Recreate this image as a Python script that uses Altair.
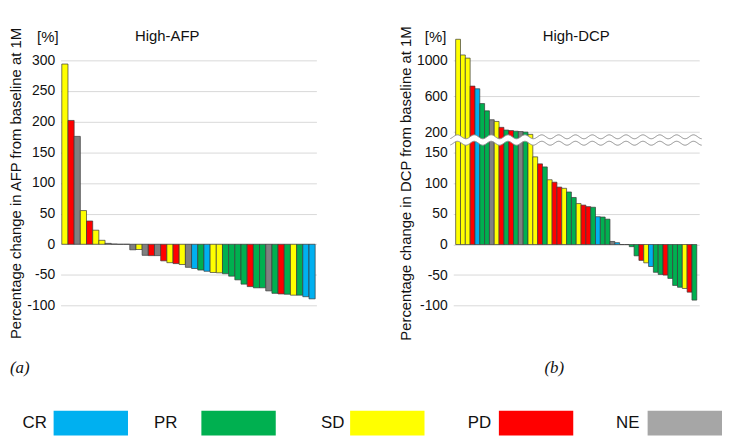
import altair as alt
import numpy as np
import pandas as pd

# ---------------- data ----------------
CATS = ["CR", "PR", "SD", "PD", "NE"]
AFP_COLORS = ["#00b0f0", "#00b050", "#ffff00", "#ff0000", "#808080"]
DCP_COLORS = ["#00b0f0", "#00b050", "#ffff00", "#ff0000", "#a6a6a6"]
LEGEND_COLORS = ["#00b0f0", "#00b050", "#ffff00", "#ff0000", "#a6a6a6"]

afp_resp = ["SD", "PD", "NE", "SD", "PD", "SD", "SD", "NE", "NE", "NE", "NE",
            "NE", "SD", "NE", "PD", "NE", "PD", "SD", "PD", "SD", "NE",
            "CR", "PR", "CR", "SD", "SD", "PR", "PR", "PR", "PR", "PD",
            "PR", "PR", "NE", "PR", "PD", "PR", "SD", "PR", "CR", "CR"]
afp_vals = [294, 202, 176, 55, 38, 23, 6.5, 1.5, 0.5, 0, 0,
            -9, -8.5, -18, -18.5, -18.5, -27, -30, -31.5, -33, -37.6,
            -39.5, -42, -44, -46, -46.5, -48, -52, -58, -65, -69,
            -71, -71, -76, -80, -81, -81.5, -83, -83, -85.5, -89]

dcp_resp = ["SD", "SD", "SD", "PD", "CR", "PR", "PR", "NE", "SD", "PD",
            "PR", "PD", "PR", "NE", "PR", "SD", "SD", "PD", "PR", "SD",
            "PD", "PD", "SD", "PR", "PR", "SD", "PD", "PD", "PR", "CR",
            "PR", "PR", "NE", "CR", "NE", "NE", "PR", "PR", "PD", "SD",
            "CR", "PR", "PR", "PD", "PR", "PR", "PR", "SD", "PD", "PR"]
dcp_vals = [1235, 1060, 1025, 713, 683, 518, 437, 338, 319, 253,
            223, 217, 210, 206, 200, 175, 143.5, 132, 127, 106,
            102, 94, 92, 86, 77, 67, 64.5, 62, 61, 45.5,
            45, 41.5, 5, 3, 0, 0, -3.5, -18.5, -26, -30,
            -36, -45.5, -49, -50, -55.5, -67, -70, -72, -78, -91]

AFP_TICKS = [-100, -50, 0, 50, 100, 150, 200, 250, 300]
DCP_TICKS = [-100, -50, 0, 50, 100, 150, 200, 600, 1000]

# broken axis for DCP: values above the break are compressed
BREAK_LO = 160
BREAK_T = 184
COMP = 0.1468


def t_of(v):
    return v if v <= BREAK_LO else BREAK_T + (v - 200) * COMP


DCP_TICK_T = [t_of(v) for v in DCP_TICKS]

# ---------------- layout / style ----------------
FONT = "Liberation Sans"
SERIF = "Liberation Serif"
TXT = "#111111"
PLOT_H = 247.3
AFP_W = 258
DCP_W = 248
GAP = 138
AFP_LEFT = 60  # page x of AFP plot left

LEG_RECT_X = [53, 202, 352, 502, 652]
LEG_TEXT_X = [34, 166, 334.5, 482.5, 632]
LEG_W = 75
LEG_Y0, LEG_Y1 = 353.3, 378.3

axis_common = dict(grid=True, gridColor="#d9d9d9", gridWidth=1, ticks=False, domain=False,
                   labelFontSize=14, labelFont=FONT, labelColor=TXT, labelPadding=6,
                   titleFont=FONT, titleFontSize=15, titleFontWeight="normal",
                   titleColor=TXT, titlePadding=3)


def label(text, x, y, size=15, align="center", font=FONT, style="normal"):
    return alt.Chart(pd.DataFrame({"s": [text]})).mark_text(
        align=align, baseline="middle", fontSize=size, font=font,
        fontStyle=style, color=TXT
    ).encode(text="s:N", x=alt.value(x), y=alt.value(y))


# ---------------- AFP panel ----------------
afp_df = pd.DataFrame({"i": list(range(len(afp_vals))), "v": afp_vals, "r": afp_resp})
afp_bars = alt.Chart(afp_df).mark_bar(stroke="#3a3a3a", strokeWidth=0.7, opacity=1).encode(
    x=alt.X("i:O", axis=None, scale=alt.Scale(paddingInner=0, paddingOuter=0.2)),
    y=alt.Y("v:Q", scale=alt.Scale(domain=[-100, 300], nice=False),
            axis=alt.Axis(values=AFP_TICKS, labelExpr="'' + datum.value",
                          title="Percentage change in AFP from baseline at 1M", **axis_common)),
    color=alt.Color("r:N", scale=alt.Scale(domain=CATS, range=AFP_COLORS), legend=None),
)

afp_layers = [afp_bars,
              label("High-AFP", 107.5, -24.7),
              label("[%]", -2, -23.7, align="right"),
              label("(a)", -51, 310.3, size=17, align="left", font=SERIF, style="italic")]
for cat, col, rx, tx in zip(CATS, LEGEND_COLORS, LEG_RECT_X, LEG_TEXT_X):
    afp_layers.append(
        alt.Chart(pd.DataFrame({"r": [cat]})).mark_rect(color=col).encode(
            x=alt.value(rx - AFP_LEFT), x2=alt.value(rx - AFP_LEFT + LEG_W),
            y=alt.value(LEG_Y0), y2=alt.value(LEG_Y1)))
    afp_layers.append(label(cat, tx - AFP_LEFT, (LEG_Y0 + LEG_Y1) / 2, size=17))

afp = alt.layer(*afp_layers).properties(width=AFP_W, height=PLOT_H)

# ---------------- DCP panel ----------------
dcp_df = pd.DataFrame({"i": list(range(len(dcp_vals))), "v": dcp_vals, "r": dcp_resp})
dcp_scale = alt.Scale(domain=[-100, DCP_TICK_T[-1]], nice=False)
dcp_axis = alt.Axis(values=DCP_TICK_T,
                    labelExpr=f"'' + (datum.value <= {BREAK_LO} ? datum.value : round(200 + (datum.value - {BREAK_T}) / {COMP}))",
                    title="Percentage change in DCP from baseline at 1M", **axis_common)
dcp_bars = alt.Chart(dcp_df).transform_calculate(
    t=f"datum.v <= {BREAK_LO} ? datum.v : {BREAK_T} + (datum.v - 200) * {COMP}"
).mark_bar(stroke="#3a3a3a", strokeWidth=0.7, opacity=1).encode(
    x=alt.X("i:O", axis=None, scale=alt.Scale(paddingInner=0, paddingOuter=0.5)),
    y=alt.Y("t:Q", scale=dcp_scale, axis=dcp_axis),
    color=alt.Color("r:N", scale=alt.Scale(domain=CATS, range=DCP_COLORS), legend=None),
)

# decorative wavy break band
u = np.linspace(-0.012, 1.01, 400)
ph = 2 * np.pi * u * DCP_W / 17.0
wave_df = pd.DataFrame({"u": u,
                        "top": 176.3 + 3.2 * np.sin(ph),
                        "bot": 165.8 + 3.2 * np.sin(ph)})
wx = alt.X("u:Q", scale=alt.Scale(domain=[0, 1], nice=False, zero=False), axis=None)
wave_fill = alt.Chart(wave_df).mark_area(color="white", opacity=1).encode(
    x=wx, y=alt.Y("bot:Q", scale=dcp_scale, axis=dcp_axis), y2="top:Q")
wave_top = alt.Chart(wave_df).mark_line(color="#8c8c8c", strokeWidth=1).encode(
    x=wx, y=alt.Y("top:Q", scale=dcp_scale, axis=dcp_axis))
wave_bot = alt.Chart(wave_df).mark_line(color="#8c8c8c", strokeWidth=1).encode(
    x=wx, y=alt.Y("bot:Q", scale=dcp_scale, axis=dcp_axis))

dcp = alt.layer(
    dcp_bars, wave_fill, wave_top, wave_bot,
    label("High-DCP", 124, -24.7),
    label("[%]", -7, -23.7, align="right"),
    label("(b)", 92, 310.3, size=17, align="left", font=SERIF, style="italic"),
).resolve_scale(x="independent").properties(width=DCP_W, height=PLOT_H)

chart = alt.hconcat(afp, dcp, spacing=GAP, bounds="flush").properties(
    padding={"left": 0, "top": 15, "right": 0, "bottom": 0}
).configure(font=FONT).configure_view(stroke="transparent", strokeWidth=0)

chart.save("out.html", embed_options={"renderer": "svg", "actions": False})
